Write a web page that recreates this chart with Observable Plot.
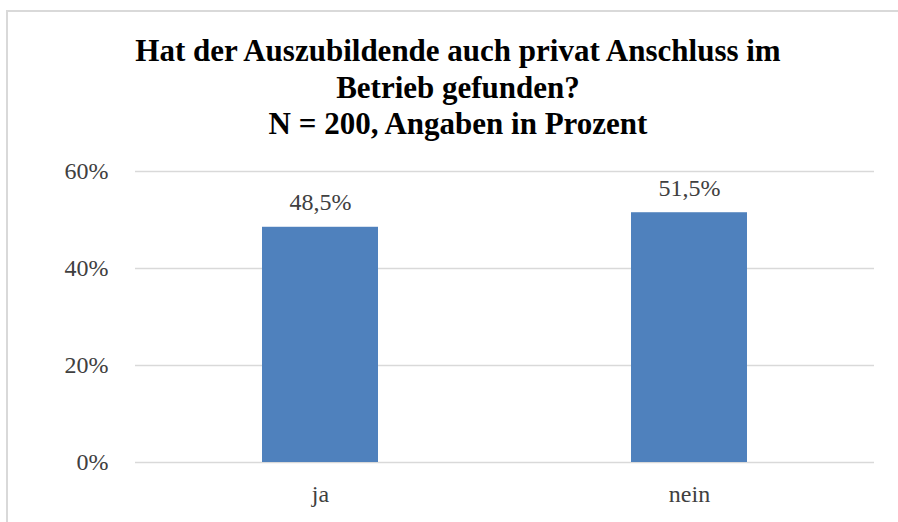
<!DOCTYPE html>
<html>
<head>
<meta charset="utf-8">
<script src="https://cdn.jsdelivr.net/npm/d3@7"></script>
<script src="https://cdn.jsdelivr.net/npm/@observablehq/plot@0.6"></script>
<style>
  html, body { margin: 0; padding: 0; background: #fff; }
  #wrap { width: 898px; height: 522px; position: relative; }
  #frame { position: absolute; left: 6px; top: 10px; width: 892px; height: 512px; border-left: 2px solid #d9d9d9; border-top: 2px solid #d9d9d9; box-sizing: border-box; }
  #title { position: absolute; left: 0; width: 916px; top: 33px; text-align: center; font-weight: bold; font-size: 31px; line-height: 36.5px; color: #000; }
  #chart { position: absolute; left: 0; top: 0; }
</style>
</head>
<body>
<div id="wrap">
<div id="frame"></div>
<div id="title" style="font-family: 'Liberation Serif', Tinos, 'Times New Roman', 'DejaVu Serif', serif;">Hat der Auszubildende auch privat Anschluss im<br>Betrieb gefunden?<br>N = 200, Angaben in Prozent</div>
<div id="chart"></div>
</div>
<script>
const categories = ["ja", "nein"];
const values = [48.5, 51.5];
const valueLabels = ["48,5%", "51,5%"];
const yTicks = [0, 20, 40, 60];
const yTickLabels = ["0%", "20%", "40%", "60%"];

const data = categories.map((c, i) => ({ cat: c, value: values[i], label: valueLabels[i] }));
const serif = "'Liberation Serif', Tinos, 'Times New Roman', 'DejaVu Serif', serif";

function draw() {
  const chart = Plot.plot({
    width: 898,
    height: 522,
    marginTop: 171,
    marginBottom: 60,
    marginLeft: 135,
    marginRight: 24,
    style: { fontFamily: serif, fontSize: "24px", color: "#404040", background: "transparent", overflow: "visible" },
    x: { domain: categories, paddingInner: 0.686, paddingOuter: 0.343, align: 0.5, label: null },
    y: { domain: [0, 60], ticks: yTicks, label: null },
    marks: [
      Plot.gridY(yTicks, { stroke: "#d9d9d9", strokeOpacity: 1, strokeWidth: 1.3 }),
      Plot.barY(data, { x: "cat", y: "value", fill: "#4f81bd" }),
      Plot.text(data, { x: "cat", y: "value", text: "label", lineAnchor: "bottom", dy: -17, fill: "#404040", fontSize: 24 }),
      Plot.axisY(yTicks, { tickSize: 0, tickPadding: 27, tickFormat: (d) => yTickLabels[yTicks.indexOf(d)], fill: "#404040", fontSize: 24, label: null }),
      Plot.axisX(categories, { tickSize: 0, tickPadding: 22, fill: "#404040", fontSize: 24, label: null })
    ]
  });
  chart.querySelectorAll("text").forEach(t => t.style.fontFamily = serif);
  const holder = document.getElementById("chart");
  holder.replaceChildren(chart);
  const title = document.getElementById("title");
  title.style.fontFamily = "serif";
  void title.offsetWidth;
  title.style.fontFamily = serif;
}
draw();
if (document.fonts && document.fonts.load) {
  Promise.all([
    document.fonts.load("24px 'Liberation Serif'"),
    document.fonts.load("bold 31px 'Liberation Serif'")
  ]).then(draw, draw);
}
</script>
</body>
</html>
